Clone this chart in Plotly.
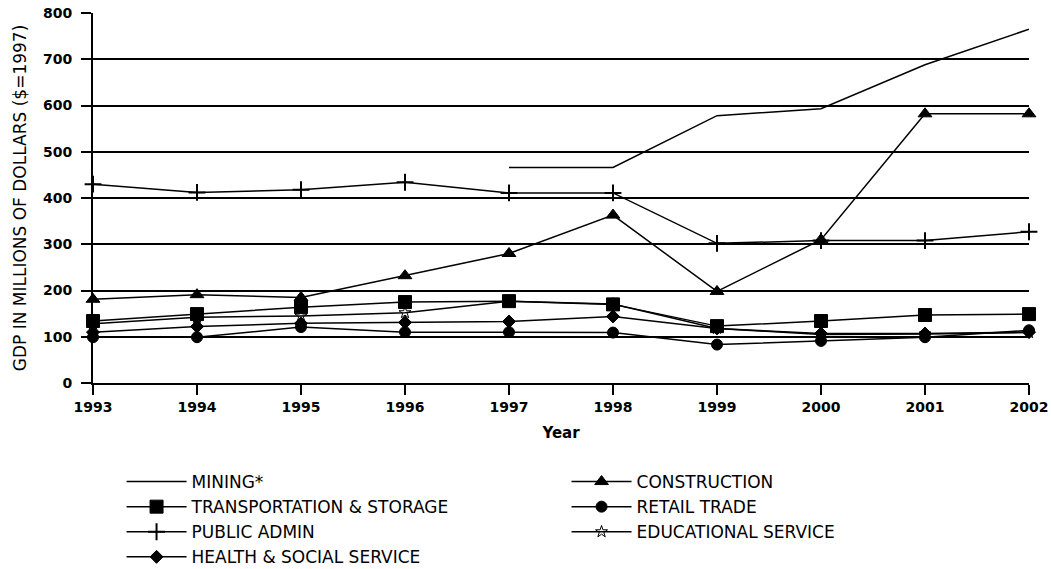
import plotly.graph_objects as go

years = [1993, 1994, 1995, 1996, 1997, 1998, 1999, 2000, 2001, 2002]

mining = [None, None, None, None, 466, 466, 578, 593, 688, 765]
construction = [181, 191, 185, 232, 280, 363, 198, 310, 582, 582]
transportation = [134, 149, 164, 175, 177, 170, 123, 134, 147, 149]
retail_trade = [99, 99, 121, 110, 110, 109, 83, 91, 99, 114]
public_admin = [430, 412, 418, 434, 411, 411, 302, 308, 308, 327]
educational = [128, 142, 145, 152, 177, 171, 118, 105, 106, 109]
health_social = [110, 122, 129, 131, 133, 144, 118, 107, 107, 110]

series = [
    ("MINING*", mining, None, 0),
    ("CONSTRUCTION", construction, "triangle-up", 12),
    ("TRANSPORTATION & STORAGE", transportation, "square", 13),
    ("RETAIL TRADE", retail_trade, "circle", 11),
    ("PUBLIC ADMIN", public_admin, "cross-thin", 12),
    ("EDUCATIONAL SERVICE", educational, "star-open", 9),
    ("HEALTH & SOCIAL SERVICE", health_social, "diamond", 10),
]

fig = go.Figure()

for name, values, symbol, size in series:
    if symbol is None:
        fig.add_trace(
            go.Scatter(
                x=years,
                y=values,
                name=name,
                mode="lines",
                line=dict(color="black", width=1.5),
                cliponaxis=False,
            )
        )
    else:
        fig.add_trace(
            go.Scatter(
                x=years,
                y=values,
                name=name,
                mode="lines+markers",
                line=dict(color="black", width=1.5),
                marker=dict(
                    symbol=symbol,
                    size=size,
                    color="black",
                    line=dict(color="black", width=2 if symbol == "cross-thin" else 1),
                ),
                cliponaxis=False,
            )
        )

fig.update_layout(
    width=1051,
    height=569,
    margin=dict(l=93, r=22, t=13, b=186),
    paper_bgcolor="white",
    plot_bgcolor="white",
    font=dict(family="DejaVu Sans", color="black", size=14),
    legend=dict(
        orientation="h",
        x=0.0305,
        xanchor="left",
        yref="container",
        y=1 - 464 / 569,
        yanchor="top",
        font=dict(size=17),
        itemwidth=60,
        entrywidth=370,
        entrywidthmode="pixels",
        bgcolor="rgba(0,0,0,0)",
    ),
    xaxis=dict(
        title=dict(text="<b>Year</b>", standoff=14, font=dict(size=15)),
        range=[1993, 2002],
        tickvals=years,
        ticktext=[str(y) for y in years],
        showgrid=False,
        zeroline=False,
        showline=True,
        linecolor="black",
        linewidth=2,
        ticks="outside",
        ticklen=10,
        tickwidth=2,
        tickcolor="black",
        tickfont=dict(size=14, weight="bold"),
        ticklabeloverflow="allow",
        automargin=False,
    ),
    yaxis=dict(
        title=dict(text="GDP IN MILLIONS OF DOLLARS ($=1997)", standoff=12, font=dict(size=17)),
        range=[0, 800],
        dtick=100,
        showgrid=True,
        gridcolor="black",
        gridwidth=2,
        zeroline=False,
        showline=True,
        linecolor="black",
        linewidth=2,
        ticks="outside",
        ticklen=10,
        tickwidth=2,
        tickcolor="black",
        ticklabelstandoff=6,
        ticklabeloverflow="allow",
        tickfont=dict(size=14, weight="bold"),
        automargin=False,
    ),
)

# drop the default 8px body margin so the figure fills the window exactly
fig.write_html(
    "out.html",
    config={"displayModeBar": False},
    post_script="document.body.style.margin = '0';",
)
